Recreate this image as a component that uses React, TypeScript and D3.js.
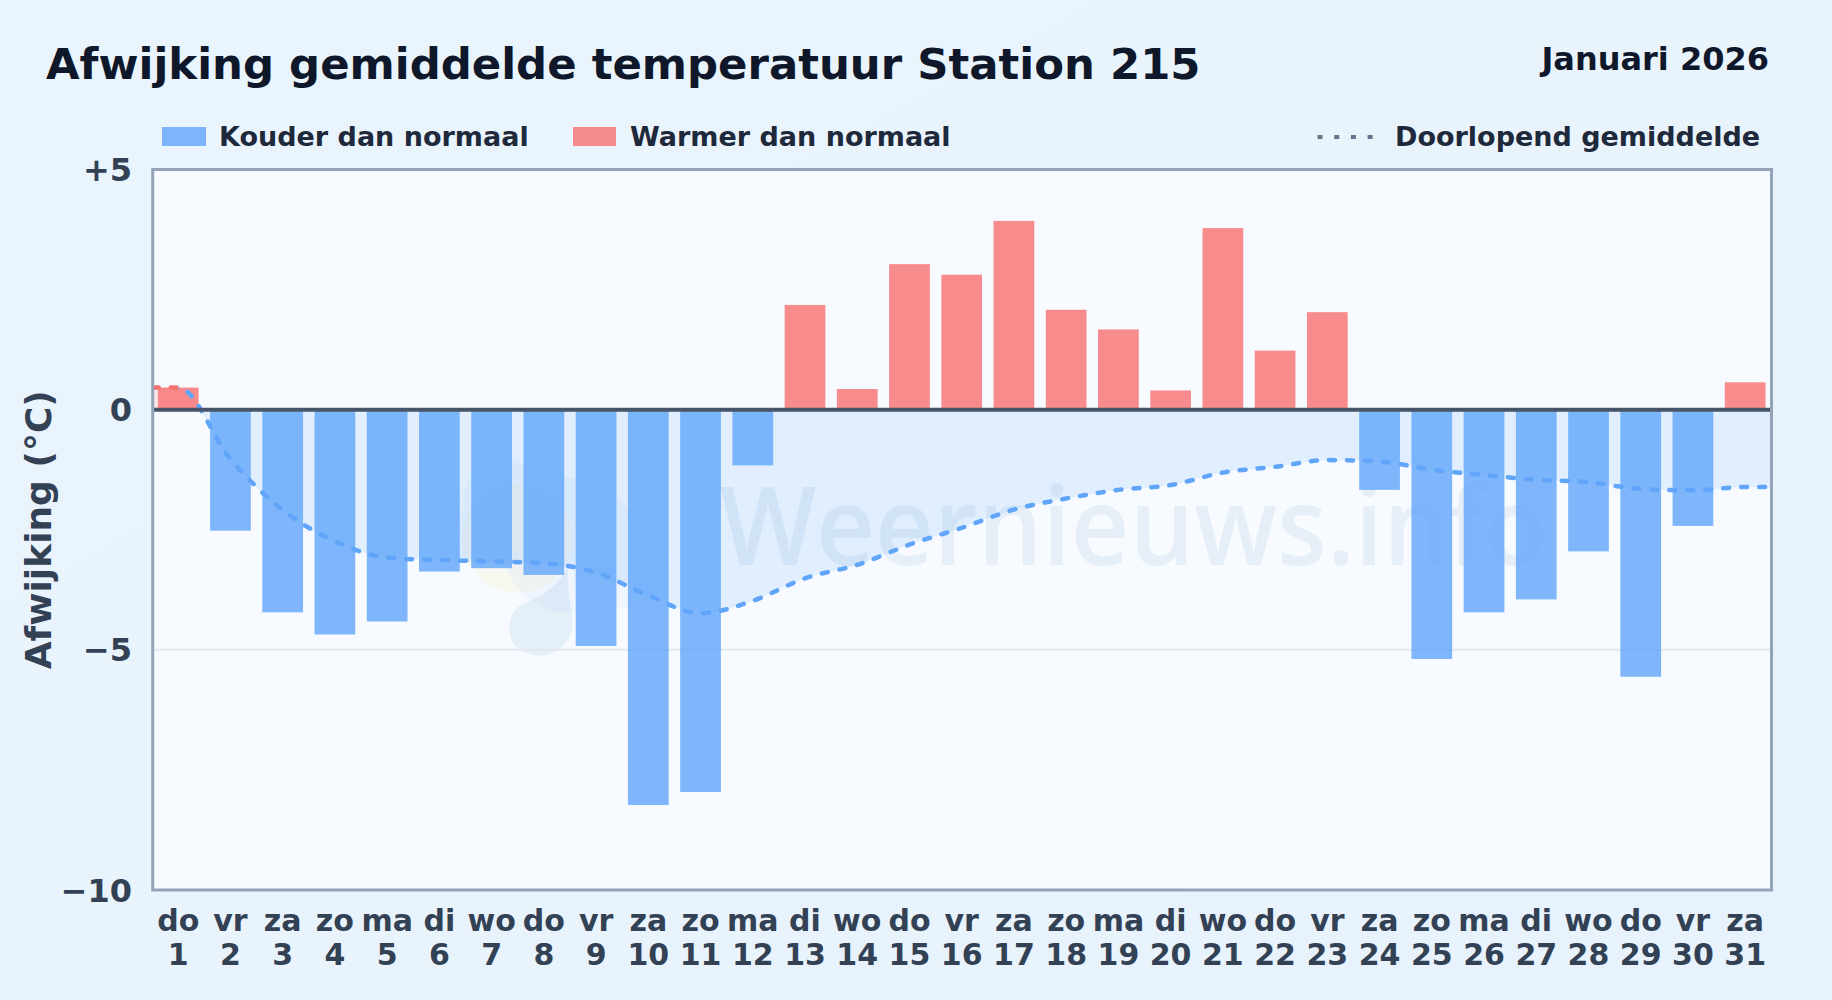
import * as d3 from "d3";

const days = d3.range(1, 32).map(String);
const weekdays = ["do","vr","za","zo","ma","di","wo","do","vr","za","zo","ma","di","wo","do","vr","za","zo","ma","di","wo","do","vr","za","zo","ma","di","wo","do","vr","za"];
const deviation = [0.46,-2.52,-4.22,-4.68,-4.41,-3.37,-3.3,-3.44,-4.92,-8.23,-7.96,-1.16,2.18,0.43,3.03,2.81,3.93,2.08,1.67,0.4,3.78,1.23,2.03,-1.67,-5.19,-4.22,-3.95,-2.95,-5.56,-2.42,0.57];
const runningMean = [0.46,-1.03,-2.09,-2.74,-3.08,-3.13,-3.16,-3.2,-3.39,-3.87,-4.24,-3.98,-3.51,-3.23,-2.81,-2.46,-2.08,-1.85,-1.67,-1.57,-1.31,-1.19,-1.05,-1.08,-1.25,-1.36,-1.46,-1.51,-1.65,-1.68,-1.61];
const yTicks = [5, 0, -5, -10];
const yTickLabels = ["+5", "0", "\u22125", "\u221210"];

const W = 1832;
const H = 1000;
const plot = { left: 152.7, right: 1771.5, top: 169.5, bottom: 890 };
const font = "'DejaVu Sans', sans-serif";

const x = d3.scaleBand<string>()
  .domain(days)
  .range([plot.left - 0.6, plot.right - 0.2])
  .paddingInner(0.22)
  .paddingOuter(0.11);
const y = d3.scaleLinear().domain([5, -10]).range([plot.top, plot.bottom]);
const cx = (d: string) => (x(d) as number) + x.bandwidth() / 2;

// running mean runs on to the plot edges with its first and last value
const meanPts: [number, number][] = [
  [plot.left, runningMean[0]],
  ...days.map((d, i): [number, number] => [cx(d), runningMean[i]]),
  [plot.right, runningMean[runningMean.length - 1]],
];
const meanLine = d3.line<[number, number]>()
  .x(d => d[0])
  .y(d => y(d[1]))
  .curve(d3.curveMonotoneX);
const meanArea = d3.area<[number, number]>()
  .x(d => d[0])
  .y0(y(0))
  .y1(d => y(d[1]))
  .curve(d3.curveMonotoneX);

const Watermark = () => (
  <g>
    <circle cx={517} cy={538} r={55} fill="#fde047" opacity={0.08} />
    <g fill="#3b82f6" opacity={0.04}>
      <circle cx={503} cy={500} r={40} />
      <circle cx={570} cy={545} r={68} />
      <circle cx={620} cy={560} r={48} />
      <circle cx={480} cy={535} r={30} />
    </g>
    <path
      d="M 568 566 C 558 590 532 600 525 603 C 505 610 505 640 520 650 C 540 662 565 655 572 630 C 576 615 566 600 568 566 Z"
      fill="#1e6ba8"
      opacity={0.08}
    />
    <text
      x={720}
      y={565}
      fontFamily="'Open Sans', sans-serif"
      fontWeight={600}
      fontSize={108}
      textLength={827}
      lengthAdjust="spacingAndGlyphs"
      fill="#2a6a9e"
      opacity={0.08}
    >
      Weernieuws.info
    </text>
  </g>
);

export default function App() {
  return (
    <svg
      width={W}
      height={H}
      viewBox={`0 0 ${W} ${H}`}
      style={{ position: "absolute", left: 0, top: 0, display: "block" }}
    >
      <defs>
        <linearGradient id="pageBg" x1="0" y1="0" x2="1" y2="1">
          <stop offset="0" stopColor="#eaf4fc" />
          <stop offset="1" stopColor="#e7f2fc" />
        </linearGradient>
        <clipPath id="above"><rect x={plot.left} y={plot.top} width={plot.right - plot.left} height={y(0) - plot.top} /></clipPath>
        <clipPath id="below"><rect x={plot.left} y={y(0)} width={plot.right - plot.left} height={plot.bottom - y(0)} /></clipPath>
        <clipPath id="lineStart"><rect x={plot.left} y={plot.top} width={cx(days[0]) - plot.left} height={plot.bottom - plot.top} /></clipPath>
        <clipPath id="lineRest"><rect x={cx(days[0])} y={plot.top} width={plot.right - cx(days[0])} height={plot.bottom - plot.top} /></clipPath>
      </defs>

      <rect width={W} height={H} fill="url(#pageBg)" />

      <text x={46} y={79} fontFamily={font} fontWeight={700} fontSize={43.4} fill="#0f172a">
        Afwijking gemiddelde temperatuur Station 215
      </text>
      <text x={1769} y={70} textAnchor="end" fontFamily={font} fontWeight={700} fontSize={32} fill="#0f172a">
        Januari 2026
      </text>

      {/* legend */}
      <rect x={162} y={127} width={44} height={19} fill="#60a5fa" opacity={0.8} />
      <text x={219} y={146} fontFamily={font} fontWeight={700} fontSize={27} fill="#1e293b">Kouder dan normaal</text>
      <rect x={573} y={127} width={43} height={19} fill="#f87171" opacity={0.8} />
      <text x={630} y={146} fontFamily={font} fontWeight={700} fontSize={27} fill="#1e293b">Warmer dan normaal</text>
      <line x1={1317.5} x2={1373} y1={137} y2={137} stroke="#64748b" strokeWidth={4} strokeDasharray="5 11.7" />
      <text x={1395} y={146} fontFamily={font} fontWeight={700} fontSize={27} fill="#1e293b">Doorlopend gemiddelde</text>

      {/* plot */}
      <rect x={plot.left} y={plot.top} width={plot.right - plot.left} height={plot.bottom - plot.top} fill="#f7fbff" />
      <Watermark />

      {yTicks.filter(t => t === -5).map(t => (
        <line key={t} x1={plot.left} x2={plot.right} y1={y(t)} y2={y(t)} stroke="#e2e8f0" strokeWidth={2} />
      ))}

      <path d={meanArea(meanPts) ?? ""} fill="#60a5fa" opacity={0.15} clipPath="url(#below)" />
      <path d={meanArea(meanPts) ?? ""} fill="#f87171" opacity={0.15} clipPath="url(#above)" />

      {days.map((d, i) => (
        <rect
          key={d}
          x={x(d)}
          width={x.bandwidth()}
          y={y(Math.max(0, deviation[i]))}
          height={Math.abs(y(deviation[i]) - y(0))}
          fill={deviation[i] < 0 ? "#60a5fa" : "#f87171"}
          opacity={0.8}
        />
      ))}

      <path d={meanLine(meanPts) ?? ""} fill="none" stroke="#f87171" strokeWidth={4.5} strokeDasharray="6 12" strokeLinecap="round" clipPath="url(#lineStart)" />
      <path d={meanLine(meanPts) ?? ""} fill="none" stroke="#60a5fa" strokeWidth={4.5} strokeDasharray="6 12" strokeLinecap="round" clipPath="url(#lineRest)" />

      <line x1={plot.left} x2={plot.right} y1={y(0)} y2={y(0)} stroke="#475569" strokeWidth={4} />
      <rect x={plot.left} y={plot.top} width={plot.right - plot.left} height={plot.bottom - plot.top} fill="none" stroke="#94a3b8" strokeWidth={3} />

      {/* y axis */}
      {yTicks.map((t, i) => (
        <text key={t} x={132} y={y(t) + 11.5} textAnchor="end" fontFamily={font} fontWeight={700} fontSize={32} fill="#334155">
          {yTickLabels[i]}
        </text>
      ))}
      <text
        transform={`translate(50.5,${(plot.top + plot.bottom) / 2}) rotate(-90)`}
        textAnchor="middle"
        fontFamily={font}
        fontWeight={700}
        fontSize={36}
        fill="#334155"
      >
        Afwijking (°C)
      </text>

      {/* x axis */}
      {days.map((d, i) => (
        <g key={d} textAnchor="middle" fontFamily={font} fontWeight={700} fontSize={30} fill="#334155">
          <text x={cx(d)} y={931}>{weekdays[i]}</text>
          <text x={cx(d)} y={964.5}>{d}</text>
        </g>
      ))}
    </svg>
  );
}
